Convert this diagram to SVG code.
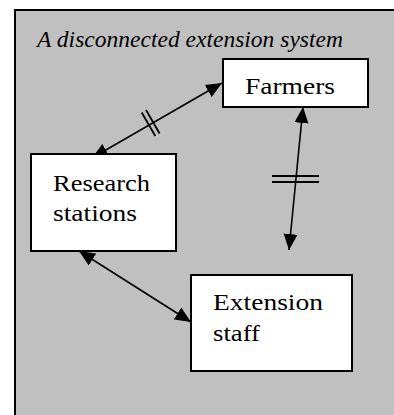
<svg xmlns="http://www.w3.org/2000/svg" width="394" height="415" viewBox="0 0 394 415">
  <style>
    .frame { fill: #c0c0c0; stroke: #000; stroke-width: 2; }
    .box { fill: #fff; stroke: #000; stroke-width: 2; }
    .conn { fill: none; stroke: #000; stroke-width: 1.6; }
    .tick { fill: none; stroke: #000; stroke-width: 1.8; }
    .lbl { font-size: 24px; fill: #000; }
    .title { font-size: 23.5px; font-style: italic; fill: #000; }
  </style>
  <defs>
    <marker id="ah" markerUnits="userSpaceOnUse" markerWidth="17" markerHeight="15" refX="16" refY="7" orient="auto-start-reverse" viewBox="0 0 17 14">
      <path d="M0,0 L16,7 L0,14 z" fill="#000"/>
    </marker>
  </defs>
  <rect class="frame" x="15" y="10" width="400" height="420"/>
  <g font-family="Liberation Serif, Times New Roman, Times, serif">
  <text class="title" x="37" y="47" textLength="306" lengthAdjust="spacingAndGlyphs">A disconnected extension system</text>
  <g id="connectors">
    <line class="conn" x1="92" y1="158" x2="222" y2="83" marker-start="url(#ah)" marker-end="url(#ah)"/>
    <line class="tick" x1="141.7" y1="112.5" x2="155.3" y2="136.0"/>
    <line class="tick" x1="146.0" y1="110.0" x2="159.6" y2="133.5"/>
    <line class="conn" x1="303" y1="107" x2="289" y2="250" marker-start="url(#ah)" marker-end="url(#ah)"/>
    <line class="tick" x1="272" y1="176" x2="319" y2="176"/>
    <line class="tick" x1="272" y1="182" x2="319" y2="182"/>
    <line class="conn" x1="79" y1="251" x2="191" y2="322" marker-start="url(#ah)" marker-end="url(#ah)"/>
  </g>
  <g id="farmers">
    <rect class="box" x="223" y="59" width="145" height="48"/>
    <text class="lbl" x="245" y="94" textLength="90" lengthAdjust="spacingAndGlyphs">Farmers</text>
  </g>
  <g id="research-stations">
    <rect class="box" x="31" y="154" width="145" height="97"/>
    <text class="lbl" x="53" y="190.5" textLength="97" lengthAdjust="spacingAndGlyphs">Research</text>
    <text class="lbl" x="53" y="221" textLength="84" lengthAdjust="spacingAndGlyphs">stations</text>
  </g>
  <g id="extension-staff">
    <rect class="box" x="191" y="275" width="161" height="96"/>
    <text class="lbl" x="213" y="310" textLength="110" lengthAdjust="spacingAndGlyphs">Extension</text>
    <text class="lbl" x="213" y="341" textLength="47" lengthAdjust="spacingAndGlyphs">staff</text>
  </g>
  </g>
</svg>
